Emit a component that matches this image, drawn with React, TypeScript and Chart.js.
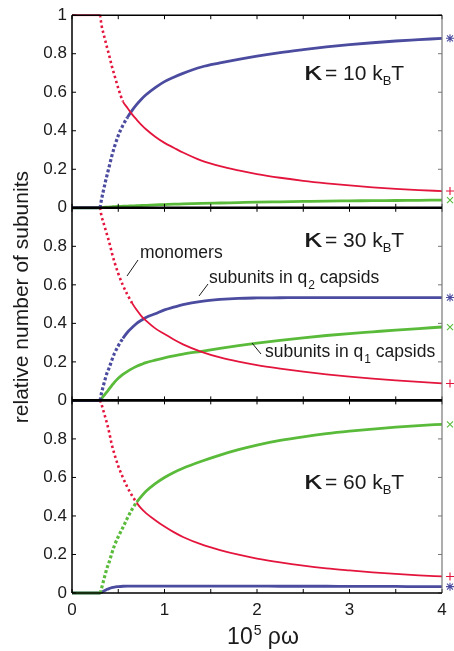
import React, { useEffect, useRef } from 'react';
import { Chart, registerables } from 'chart.js';
Chart.register(...registerables);

const FONT = '"Liberation Sans", Arial, Helvetica, sans-serif';
const RED = '#e4153d';
const BLUE = '#4b4c9f';
const GREEN = '#5abb3b';
const INK = '#1a1a1a';

// x = 10^5 ρω
const xValues = [0, 0.1, 0.2, 0.3, 0.32, 0.34, 0.36, 0.38, 0.4, 0.43, 0.46, 0.5, 0.55, 0.6, 0.65, 0.7, 0.75, 0.8, 0.9, 1.0, 1.1, 1.2, 1.4, 1.6, 1.8, 2.0, 2.25, 2.5, 2.75, 3.0, 3.25, 3.5, 3.75, 4.0];

// κ = 10 kBT
const monomersK10 = [1, 1, 1, 1, 0.945, 0.905, 0.868, 0.83, 0.795, 0.737, 0.687, 0.621, 0.553, 0.518, 0.485, 0.457, 0.431, 0.408, 0.369, 0.337, 0.312, 0.287, 0.245, 0.216, 0.194, 0.175, 0.156, 0.14, 0.127, 0.116, 0.106, 0.098, 0.092, 0.087];
const q2K10 = [0, 0, 0, 0, 0.046, 0.09, 0.133, 0.172, 0.21, 0.268, 0.318, 0.375, 0.428, 0.47, 0.506, 0.537, 0.564, 0.587, 0.624, 0.655, 0.678, 0.698, 0.731, 0.752, 0.771, 0.788, 0.806, 0.821, 0.835, 0.847, 0.857, 0.866, 0.873, 0.88];
const q1K10 = [0, 0, 0, 0, 0.001, 0.002, 0.003, 0.003, 0.004, 0.005, 0.006, 0.007, 0.008, 0.009, 0.01, 0.011, 0.012, 0.013, 0.015, 0.017, 0.019, 0.02, 0.023, 0.025, 0.027, 0.029, 0.031, 0.033, 0.035, 0.036, 0.037, 0.038, 0.039, 0.04];

// κ = 30 kBT
const monomersK30 = [1, 1, 1, 1, 0.955, 0.923, 0.89, 0.858, 0.826, 0.768, 0.717, 0.659, 0.598, 0.548, 0.505, 0.469, 0.438, 0.414, 0.374, 0.345, 0.316, 0.291, 0.252, 0.223, 0.201, 0.183, 0.165, 0.149, 0.135, 0.123, 0.113, 0.104, 0.096, 0.088];
const q2K30 = [0, 0, 0, 0, 0.041, 0.078, 0.113, 0.145, 0.167, 0.208, 0.245, 0.283, 0.322, 0.354, 0.378, 0.4, 0.416, 0.431, 0.45, 0.47, 0.484, 0.497, 0.514, 0.524, 0.53, 0.532, 0.533, 0.534, 0.534, 0.534, 0.534, 0.534, 0.534, 0.534];
const q1K30 = [0, 0, 0, 0, 0.01, 0.022, 0.034, 0.046, 0.058, 0.077, 0.095, 0.115, 0.135, 0.151, 0.165, 0.177, 0.187, 0.196, 0.209, 0.221, 0.231, 0.24, 0.255, 0.27, 0.284, 0.297, 0.312, 0.325, 0.337, 0.347, 0.356, 0.365, 0.373, 0.381];

// κ = 60 kBT
const monomersK60 = [1, 1, 1, 1, 0.978, 0.945, 0.912, 0.878, 0.838, 0.771, 0.719, 0.659, 0.6, 0.548, 0.505, 0.468, 0.438, 0.415, 0.378, 0.345, 0.316, 0.291, 0.252, 0.223, 0.199, 0.179, 0.159, 0.142, 0.128, 0.117, 0.107, 0.099, 0.092, 0.086];
const q1K60 = [0, 0, 0, 0, 0.025, 0.062, 0.098, 0.132, 0.158, 0.205, 0.248, 0.292, 0.34, 0.39, 0.435, 0.472, 0.502, 0.528, 0.568, 0.6, 0.626, 0.648, 0.684, 0.716, 0.744, 0.768, 0.792, 0.811, 0.827, 0.84, 0.851, 0.861, 0.869, 0.876];
const q2K60 = [0, 0, 0, 0, 0.004, 0.009, 0.014, 0.019, 0.023, 0.028, 0.031, 0.033, 0.035, 0.036, 0.036, 0.036, 0.036, 0.036, 0.036, 0.036, 0.036, 0.036, 0.036, 0.036, 0.036, 0.036, 0.035, 0.035, 0.035, 0.034, 0.034, 0.034, 0.033, 0.033];

const yTickValues = [0, 0.2, 0.4, 0.6, 0.8, 1];
const xTickMarks = [0, 0.5, 1, 1.5, 2, 2.5, 3, 3.5, 4];
const kappaLabels = ['10', '30', '60'];
const panelIds = ['yTop', 'yMid', 'yBot'];

const pts = (ys: number[]) => xValues.map((x, i) => ({ x, y: ys[i] }));

function series(label: string, ys: number[], axis: string, kind: 'red' | 'blue' | 'green') {
  const color = kind === 'red' ? RED : kind === 'blue' ? BLUE : GREEN;
  const dash = kind === 'red' ? [2.4, 2.8] : [3, 2.2];
  const solidW = kind === 'red' ? 1.8 : 2.8;
  const dashW = kind === 'red' ? 2.6 : 3.2;
  const steep = (c: any) => Math.abs(c.p1.y - c.p0.y) > 1.5 * Math.abs(c.p1.x - c.p0.x);
  return {
    label,
    data: pts(ys),
    yAxisID: axis,
    showLine: true,
    cubicInterpolationMode: 'monotone',
    borderColor: color,
    backgroundColor: color,
    borderWidth: solidW,
    pointRadius: 0,
    clip: false,
    endMark: kind,
    segment: {
      borderDash: (c: any) => (steep(c) ? dash : undefined),
      borderWidth: (c: any) => (steep(c) ? dashW : undefined),
    },
  } as any;
}

const framePlugin = {
  id: 'frame',
  afterDatasetsDraw(chart: any) {
    const { ctx, chartArea: ca, scales } = chart;
    const xs = scales.x;
    ctx.save();
    ctx.setLineDash([]);
    ctx.lineCap = 'butt';
    panelIds.forEach((id) => {
      const s = scales[id];
      ctx.lineWidth = 1;
      yTickValues.forEach((v) => {
        const py = s.getPixelForValue(v);
        ctx.strokeStyle = '#000';
        ctx.beginPath();
        ctx.moveTo(ca.left, py);
        ctx.lineTo(ca.left + 4, py);
        ctx.stroke();
        ctx.strokeStyle = '#777';
        ctx.beginPath();
        ctx.moveTo(ca.right, py);
        ctx.lineTo(ca.right - 4, py);
        ctx.stroke();
      });
      ctx.strokeStyle = '#000';
      xTickMarks.forEach((v) => {
        const px = xs.getPixelForValue(v);
        ctx.beginPath();
        ctx.moveTo(px, s.top);
        ctx.lineTo(px, s.top + 4);
        ctx.moveTo(px, s.bottom);
        ctx.lineTo(px, s.bottom - 4);
        ctx.stroke();
      });
    });
    ctx.strokeStyle = '#777';
    ctx.lineWidth = 1.2;
    ctx.beginPath();
    ctx.moveTo(ca.right, ca.top);
    ctx.lineTo(ca.right, ca.bottom);
    ctx.stroke();
    ctx.strokeStyle = '#000';
    ctx.lineWidth = 1.5;
    ctx.beginPath();
    ctx.moveTo(ca.left, ca.top);
    ctx.lineTo(ca.left, ca.bottom);
    ctx.moveTo(ca.left, ca.top);
    ctx.lineTo(ca.right, ca.top);
    ctx.moveTo(ca.left, ca.bottom);
    ctx.lineTo(ca.right, ca.bottom);
    ctx.stroke();
    ctx.lineWidth = 2.6;
    ['yTop', 'yMid'].forEach((id) => {
      const b = scales[id].bottom;
      ctx.beginPath();
      ctx.moveTo(ca.left, b);
      ctx.lineTo(ca.right, b);
      ctx.stroke();
    });
    chart.data.datasets.forEach((ds: any, i: number) => {
      const meta = chart.getDatasetMeta(i);
      const last = meta.data[meta.data.length - 1];
      const mx = ca.right + 8;
      const my = last.y;
      ctx.strokeStyle = ds.borderColor;
      ctx.lineWidth = 1.1;
      ctx.beginPath();
      const h = 3.5;
      if (ds.endMark === 'red' || ds.endMark === 'blue') {
        ctx.moveTo(mx - h - 0.5, my);
        ctx.lineTo(mx + h + 0.5, my);
        ctx.moveTo(mx, my - h - 0.5);
        ctx.lineTo(mx, my + h + 0.5);
      }
      if (ds.endMark === 'green' || ds.endMark === 'blue') {
        ctx.moveTo(mx - h + 0.5, my - h + 0.5);
        ctx.lineTo(mx + h - 0.5, my + h - 0.5);
        ctx.moveTo(mx - h + 0.5, my + h - 0.5);
        ctx.lineTo(mx + h - 0.5, my - h + 0.5);
      }
      ctx.stroke();
    });
    ctx.restore();
  },
  afterDraw(chart: any) {
    const { ctx, chartArea: ca, scales } = chart;
    ctx.save();
    ctx.setLineDash([]);
    ctx.fillStyle = INK;
    ctx.textAlign = 'left';
    ctx.textBaseline = 'alphabetic';
    const kBase = [65, 39, 89];
    panelIds.forEach((id, i) => {
      const s = scales[id];
      const by = s.top + kBase[i];
      let x = 303;
      ctx.save();
      ctx.translate(x, by);
      ctx.scale(1.35, 1);
      ctx.font = `25px "DejaVu Sans", ${FONT}`;
      ctx.fillText('κ', 0, 0);
      ctx.restore();
      ctx.font = `25px "DejaVu Sans", ${FONT}`;
      x += ctx.measureText('κ').width * 1.35 + 2;
      ctx.font = `21px ${FONT}`;
      const main = '= ' + kappaLabels[i] + ' k';
      ctx.fillText(main, x, by);
      x += ctx.measureText(main).width;
      ctx.font = `13px ${FONT}`;
      ctx.fillText('B', x, by + 5);
      x += ctx.measureText('B').width;
      ctx.font = `21px ${FONT}`;
      ctx.fillText('T', x, by);
    });
    ctx.font = `17.5px ${FONT}`;
    ctx.fillText('monomers', 140, 258);
    ctx.fillText('subunits in q', 209, 283);
    let w = ctx.measureText('subunits in q').width;
    ctx.font = `12px ${FONT}`;
    ctx.fillText('2', 209 + w + 1, 289);
    let w2 = ctx.measureText('2').width;
    ctx.font = `17.5px ${FONT}`;
    ctx.fillText(' capsids', 209 + w + w2 + 1, 283);
    ctx.fillText('subunits in q', 265, 357);
    w = ctx.measureText('subunits in q').width;
    ctx.font = `12px ${FONT}`;
    ctx.fillText('1', 265 + w + 1, 363);
    w2 = ctx.measureText('1').width;
    ctx.font = `17.5px ${FONT}`;
    ctx.fillText(' capsids', 265 + w + w2 + 1, 357);
    ctx.strokeStyle = INK;
    ctx.lineWidth = 1;
    ctx.beginPath();
    ctx.moveTo(138, 260);
    ctx.lineTo(127, 276);
    ctx.moveTo(208, 284);
    ctx.lineTo(199, 296);
    ctx.moveTo(261, 354);
    ctx.lineTo(252, 343);
    ctx.stroke();
    ctx.save();
    ctx.translate(28, (ca.top + ca.bottom) / 2 - 7);
    ctx.rotate(-Math.PI / 2);
    ctx.textAlign = 'center';
    ctx.font = `21px ${FONT}`;
    ctx.fillText('relative number of subunits', 0, 0);
    ctx.restore();
    ctx.font = `23px ${FONT}`;
    const a = '10';
    const b = ' ρω';
    const wa = ctx.measureText(a).width;
    const wb = ctx.measureText(b).width;
    ctx.font = `14px ${FONT}`;
    const ws = ctx.measureText('5').width;
    const total = wa + ws + 1 + wb;
    let tx = 263 - total / 2;
    const ty = 644;
    ctx.font = `23px ${FONT}`;
    ctx.fillText(a, tx, ty);
    tx += wa + 1;
    ctx.font = `14px ${FONT}`;
    ctx.fillText('5', tx, ty - 9);
    tx += ws;
    ctx.font = `23px ${FONT}`;
    ctx.fillText(b, tx, ty);
    ctx.restore();
  },
};

function yAxis(showOne: boolean) {
  return {
    type: 'linear',
    position: 'left',
    stack: 'panels',
    stackWeight: 1,
    min: 0,
    max: 1,
    grid: { display: false, drawTicks: false },
    border: { display: false },
    ticks: {
      stepSize: 0.2,
      autoSkip: false,
      padding: 5,
      color: INK,
      font: { family: FONT, size: 17 },
      callback: (v: number) => (Math.abs(v - 1) < 1e-9 && !showOne ? '' : String(Math.round(v * 10) / 10)),
    },
    afterFit: (s: any) => {
      s.width = 72;
    },
  } as any;
}

export default function App() {
  const ref = useRef<HTMLCanvasElement | null>(null);
  useEffect(() => {
    document.body.style.margin = '0';
    const canvas = ref.current!;
    const chart = new Chart(canvas, {
      type: 'scatter',
      data: {
        datasets: [
          series('monomers κ10', monomersK10, 'yTop', 'red'),
          series('q2 κ10', q2K10, 'yTop', 'blue'),
          series('q1 κ10', q1K10, 'yTop', 'green'),
          series('monomers κ30', monomersK30, 'yMid', 'red'),
          series('q2 κ30', q2K30, 'yMid', 'blue'),
          series('q1 κ30', q1K30, 'yMid', 'green'),
          series('monomers κ60', monomersK60, 'yBot', 'red'),
          series('q1 κ60', q1K60, 'yBot', 'green'),
          series('q2 κ60', q2K60, 'yBot', 'blue'),
        ],
      },
      options: {
        animation: false,
        responsive: false,
        devicePixelRatio: 1,
        events: [],
        layout: { padding: { top: 11, right: 12, left: 0, bottom: 0 } },
        plugins: { legend: { display: false }, tooltip: { enabled: false } },
        scales: {
          x: {
            type: 'linear',
            min: 0,
            max: 4,
            grid: { display: false, drawTicks: false },
            border: { display: false },
            ticks: { stepSize: 1, padding: 7, color: INK, font: { family: FONT, size: 17 } },
            afterFit: (s: any) => {
              s.height = 58;
            },
          },
          yBot: yAxis(false),
          yMid: yAxis(false),
          yTop: yAxis(true),
        },
      } as any,
      plugins: [framePlugin],
    });
    return () => chart.destroy();
  }, []);
  return (
    <div style={{ position: 'absolute', left: 0, top: 0, width: 454, height: 651, background: '#fff' }}>
      <canvas ref={ref} width={454} height={651} style={{ display: 'block', width: 454, height: 651 }} />
    </div>
  );
}
